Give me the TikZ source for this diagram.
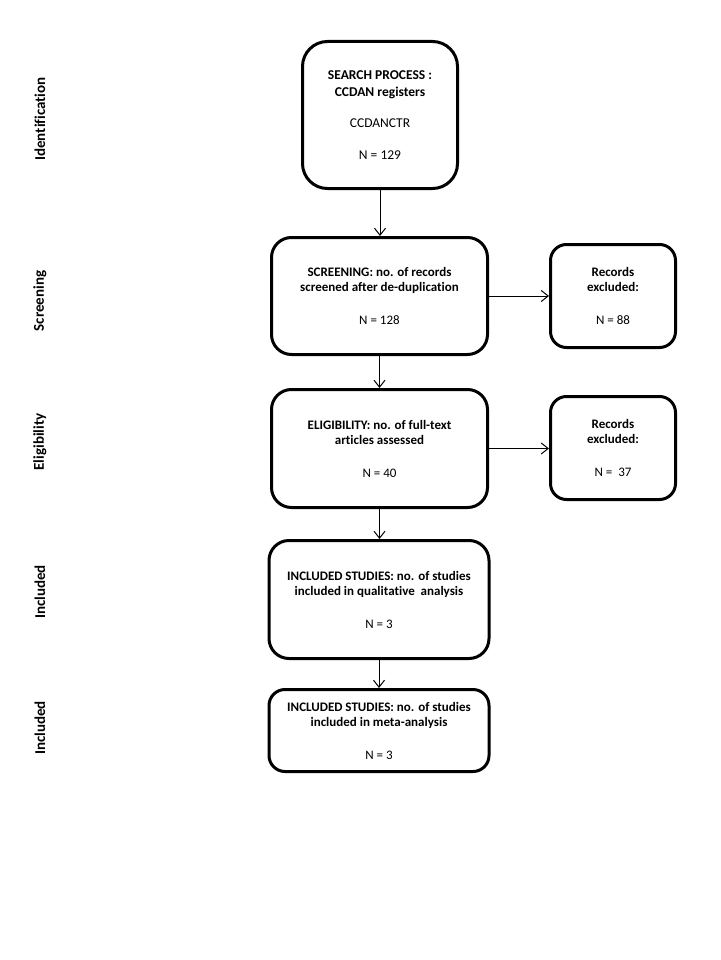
\documentclass[tikz,border=0pt]{standalone}
\usepackage{fontspec}
\setmainfont{Carlito}[Ligatures={NoCommon}]
\usetikzlibrary{arrows.meta}
\begin{document}
\begin{tikzpicture}[x=1pt,y=-1pt,
  box/.style={draw,line width=3pt,rounded corners=#1,align=center,inner sep=0pt,
    font=\fontsize{13}{15}\selectfont\bfseries},
  box/.default=20pt,
  side/.style={rotate=90,font=\fontsize{15}{17}\selectfont\bfseries},
  arr/.style={line width=1pt,-{Straight Barb[length=7pt,width=11pt]}}]
\useasboundingbox[fill=white] (0,0) rectangle (720,960);
% side labels
\node[side] (l1) at (40,119) {Identification};
\node[side] (l2) at (40,301) {Screening};
\node[side] (l3) at (40,442) {Eligibility};
\node[side] (l4) at (40,592) {Included};
\node[side] (l5) at (40,728) {Included};
% boxes
\node[box=25pt,minimum width=155pt,minimum height=147pt,font=\fontsize{13.5}{16.7}\selectfont\bfseries] (s) at (380,115)
  {SEARCH PROCESS :\\CCDAN registers\\[15pt]{\mdseries CCDANCTR}\\[15pt]{\mdseries N = 129}};
\node[box,minimum width=216pt,minimum height=117pt] (sc) at (379.5,296)
  {SCREENING: no. of records\\screened after de-duplication\\[18pt]{\mdseries N = 128}};
\node[box=16pt,minimum width=125pt,minimum height=103pt] (e1) at (613,296)
  {Records\\excluded:\\[18pt]{\mdseries N = 88}};
\node[box,minimum width=216pt,minimum height=118pt] (el) at (379.5,448.5)
  {ELIGIBILITY: no. of full-text\\articles assessed\\[18pt]{\mdseries N = 40}};
\node[box=16pt,minimum width=125pt,minimum height=103pt] (e2) at (613,448)
  {Records\\excluded:\\[18pt]{\mdseries N =\ \ 37}};
\node[box,minimum width=220pt,minimum height=118pt] (i1) at (379,599.5)
  {INCLUDED STUDIES: no. of studies\\included in qualitative\ \ analysis\\[18pt]{\mdseries N = 3}};
\node[box=16pt,minimum width=220pt,minimum height=82pt] (i2) at (379,730.5)
  {INCLUDED STUDIES: no. of studies\\included in meta-analysis\\[18pt]{\mdseries N = 3}};
% connectors
\draw[arr] (s.south) -- (s.south |- sc.north);
\draw[arr] (sc.east) -- (sc.east -| e1.west);
\draw[arr] (sc.south) -- (sc.south |- el.north);
\draw[arr] (el.east) -- (el.east -| e2.west);
\draw[arr] (el.south) -- (el.south |- i1.north);
\draw[arr] (i1.south) -- (i2.north);
\end{tikzpicture}
\end{document}
